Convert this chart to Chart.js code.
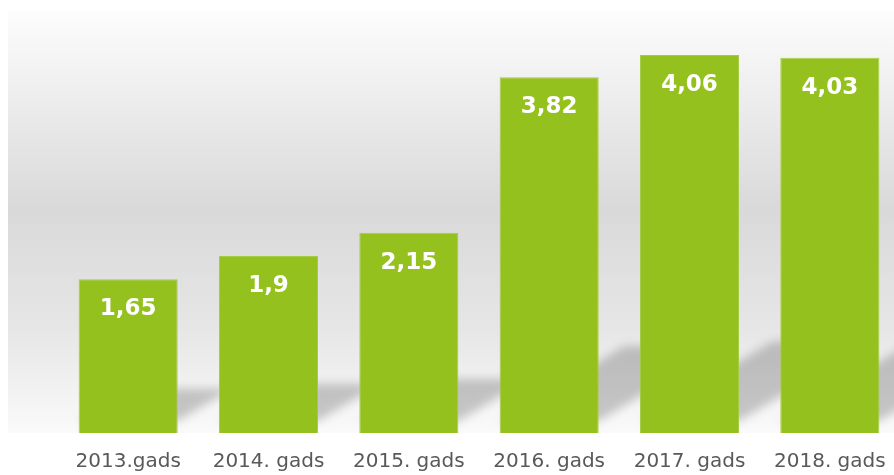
<!DOCTYPE html>
<html>
<head>
<meta charset="utf-8">
<script src="https://cdn.jsdelivr.net/npm/chart.js@4.4.1/dist/chart.umd.min.js"></script>
<style>
  html, body { margin: 0; padding: 0; background: #ffffff; overflow: hidden; }
  #wrap { width: 902px; height: 475px; }
</style>
</head>
<body>
<div id="wrap"><canvas id="graph"></canvas></div>
<script>
// dati no attēla
const gadi = ['2013.gads', '2014. gads', '2015. gads', '2016. gads', '2017. gads', '2018. gads'];
const vertibas = [1.65, 1.9, 2.15, 3.82, 4.06, 4.03];

// pelēkā "siena" aiz stabiņiem
const sienaPlugin = {
  id: 'siena',
  beforeDraw(chart) {
    const ctx = chart.ctx;
    const a = chart.chartArea;
    const g = ctx.createLinearGradient(0, a.top - 4, 0, a.bottom);
    g.addColorStop(0, '#fdfdfd');
    g.addColorStop(0.47, '#d9d9d9');
    g.addColorStop(0.75, '#e6e6e6');
    g.addColorStop(1, '#fafafa');
    ctx.save();
    ctx.fillStyle = g;
    ctx.fillRect(8, a.top - 4, chart.width, a.bottom - a.top + 4);
    ctx.restore();
  }
};

// ēnas uz "grīdas"
const enasPlugin = {
  id: 'enas',
  beforeDatasetsDraw(chart) {
    const ctx = chart.ctx;
    const meta = chart.getDatasetMeta(0);
    ctx.save();
    ctx.filter = 'blur(5px)';
    ctx.fillStyle = 'rgba(0,0,0,0.2)';
    meta.data.forEach(bar => {
      const p = bar.getProps(['x', 'y', 'base', 'width'], true);
      const h = p.base - p.y;
      const left = p.x - p.width / 2;
      const right = p.x + p.width / 2;
      const dx = h * 0.35, dy = h * 0.21;
      ctx.beginPath();
      ctx.moveTo(left, p.base - 12);
      ctx.lineTo(right, p.base - 12);
      ctx.lineTo(right + dx, p.base - 12 - dy);
      ctx.lineTo(left + dx, p.base - 12 - dy);
      ctx.closePath();
      ctx.fill();
    });
    ctx.restore();
  }
};

// vērtības stabiņos
const uzrakstiPlugin = {
  id: 'uzraksti',
  afterDatasetsDraw(chart) {
    const ctx = chart.ctx;
    const meta = chart.getDatasetMeta(0);
    ctx.save();
    ctx.font = 'bold 23px "DejaVu Sans"';
    ctx.fillStyle = '#ffffff';
    ctx.textAlign = 'center';
    ctx.textBaseline = 'middle';
    meta.data.forEach((bar, i) => {
      const txt = String(vertibas[i]).replace('.', ',');
      ctx.fillText(txt, bar.x, bar.y + 30);
    });
    ctx.restore();
  }
};

const ctx = document.getElementById('graph');
new Chart(ctx, {
  type: 'bar',
  data: {
    labels: gadi,
    datasets: [{
      data: vertibas,
      backgroundColor: '#95c11f',
      borderColor: '#a6cb45',
      borderWidth: 1,
      categoryPercentage: 1,
      barPercentage: 0.706
    }]
  },
  options: {
    responsive: true,
    maintainAspectRatio: false,
    animation: false,
    layout: {
      padding: { left: 58, right: 2, top: 14, bottom: 0 }
    },
    plugins: {
      legend: { display: false },
      tooltip: { enabled: false }
    },
    scales: {
      y: {
        display: false,
        min: 0,
        max: 4.5
      },
      x: {
        grid: { display: false },
        border: { display: false },
        afterFit(scale) { scale.height = 42; },
        ticks: {
          color: '#595959',
          padding: 9,
          maxRotation: 0,
          font: { family: 'DejaVu Sans', size: 20 }
        }
      }
    }
  },
  plugins: [sienaPlugin, enasPlugin, uzrakstiPlugin]
});
</script>
</body>
</html>
